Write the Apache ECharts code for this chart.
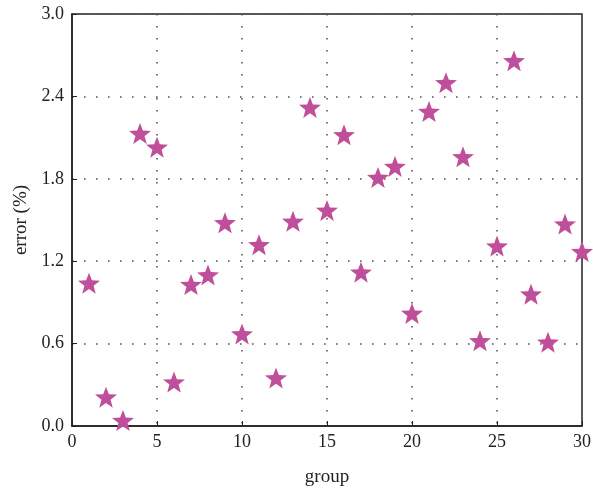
<!DOCTYPE html>
<html>
<head>
<meta charset="utf-8">
<script src="https://cdn.jsdelivr.net/npm/echarts@6/dist/echarts.min.js"></script>
<style>
	html, body { margin: 0; padding: 0; background: #fff; }
	#chart { width: 593px; height: 490px; }
</style>
</head>
<body>
<div id="chart"></div>
<script>
// group index on x, error (%) on y
const groups = [1, 2, 3, 4, 5, 6, 7, 8, 9, 10, 11, 12, 13, 14, 15, 16, 17, 18, 19, 20, 21, 22, 23, 24, 25, 26, 27, 28, 29, 30]
const errors = [
	1.04, 0.21, 0.04, 2.13, 2.03, 0.32, 1.03, 1.10, 1.48, 0.67,
	1.32, 0.35, 1.49, 2.32, 1.57, 2.12, 1.12, 1.81, 1.89, 0.82,
	2.29, 2.50, 1.96, 0.62, 1.31, 2.66, 0.96, 0.61, 1.47, 1.27,
]
const yTicks = [0.0, 0.6, 1.2, 1.8, 2.4, 3.0]

const starPath = 'path://M50,0 L62.5,33 L98,34.5 L70,56.5 L79.5,91 L50,71 L20.5,91 L30,56.5 L2,34.5 L37.5,33 Z'
const font = 'Liberation Serif'

const chart = echarts.init(document.getElementById('chart'))

const gridLine = {
	show: true,
	lineStyle: { color: '#555', type: [1.6, 10.4], width: 1.6 },
}

const option = {
	animation: false,
	grid: {
		left: 72,
		right: 11,
		top: 14,
		bottom: 64,
		show: true,
		borderColor: '#222',
		borderWidth: 1.5,
		outerBoundsMode: 'none',
		containLabel: false,
	},
	xAxis: {
		type: 'value',
		min: 0,
		max: 30,
		interval: 5,
		name: 'group',
		nameLocation: 'middle',
		nameGap: 42,
		nameTextStyle: { fontFamily: font, fontSize: 19, color: '#222' },
		axisLine: { show: true, lineStyle: { color: '#222', width: 1.5 } },
		axisTick: { show: true, inside: true, length: 5, lineStyle: { color: '#222' } },
		axisLabel: { fontFamily: font, fontSize: 18, color: '#222', margin: 7 },
		splitLine: gridLine,
	},
	yAxis: {
		type: 'value',
		min: 0,
		max: 3,
		interval: 0.6,
		name: 'error (%)',
		nameLocation: 'middle',
		nameGap: 40,
		nameTextStyle: { fontFamily: font, fontSize: 19, color: '#222' },
		axisLine: { show: true, lineStyle: { color: '#222', width: 1.5 } },
		axisTick: { show: true, inside: true, length: 5, lineStyle: { color: '#222' } },
		axisLabel: {
			fontFamily: font,
			fontSize: 18,
			color: '#222',
			margin: 8,
			formatter: (v) => {
				const t = yTicks.find((y) => Math.abs(y - v) < 1e-6)
				return t === undefined ? '' : t.toFixed(1)
			},
		},
		splitLine: gridLine,
	},
	series: [
		{
			type: 'scatter',
			symbol: starPath,
			symbolSize: [22, 21],
			itemStyle: { color: '#c04f9b', opacity: 1 },
			clip: false,
			data: groups.map((g, i) => [g, errors[i]]),
		},
	],
}

chart.setOption(option)
</script>
</body>
</html>
